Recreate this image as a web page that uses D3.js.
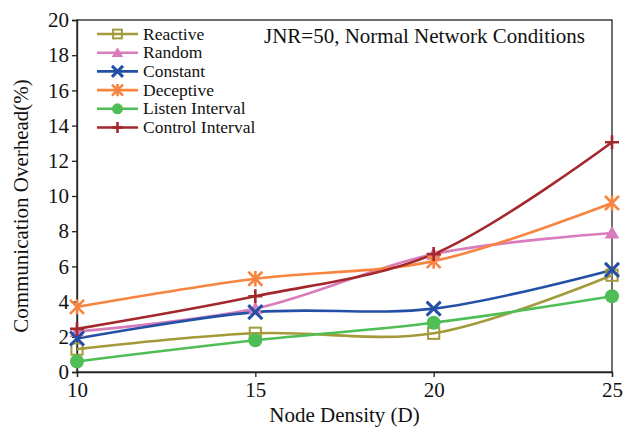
<!DOCTYPE html>
<html>
<head>
<meta charset="utf-8">
<script src="https://cdn.jsdelivr.net/npm/d3@7"></script>
<style>
  html, body { margin: 0; padding: 0; background: #fff; }
  svg { display: block; font-family: "Liberation Serif", "Times New Roman", serif; }
</style>
</head>
<body>
<svg id="chart" width="631" height="434"></svg>
<script>
// Node density values on the x axis
const densities = [10, 15, 20, 25];
const xTicks = [10, 15, 20, 25];
const yTicks = [0, 2, 4, 6, 8, 10, 12, 14, 16, 18, 20];

// Communication overhead (%) per scheme
const reactive = [1.3, 2.2, 2.2, 5.5];
const random = [2.3, 3.6, 6.7, 7.9];
const constant = [1.9, 3.4, 3.6, 5.8];
const deceptive = [3.7, 5.3, 6.3, 9.6];
const listenInterval = [0.6, 1.8, 2.8, 4.3];
const controlInterval = [2.45, 4.3, 6.7, 13.05];

const seriesNames = ["Reactive", "Random", "Constant", "Deceptive", "Listen Interval", "Control Interval"];
const seriesValues = [reactive, random, constant, deceptive, listenInterval, controlInterval];
const seriesColors = ["#a39b3b", "#d97cbc", "#2350a6", "#f7843f", "#4fbe56", "#a3282c"];
const seriesMarkers = ["square", "triangle", "x", "asterisk", "circle", "plus"];

const svg = d3.select("#chart");
const margin = { left: 77, right: 19, top: 20, bottom: 62 };
const W = 631, H = 434;

const x = d3.scaleLinear().domain([10, 25]).range([margin.left, W - margin.right]);
const y = d3.scaleLinear().domain([0, 20]).range([H - margin.bottom, margin.top]);

// Frame around the plot area
svg.append("rect")
  .attr("x", x(10)).attr("y", y(20))
  .attr("width", x(25) - x(10)).attr("height", y(0) - y(20))
  .attr("fill", "none").attr("stroke", "#222").attr("stroke-width", 1.3);

// Axes
const xAxis = svg.append("g")
  .attr("transform", `translate(0,${y(0)})`)
  .call(d3.axisBottom(x).tickValues(xTicks).tickSize(5).tickPadding(5).tickFormat(d3.format("d")));
const yAxis = svg.append("g")
  .attr("transform", `translate(${x(10)},0)`)
  .call(d3.axisLeft(y).tickValues(yTicks).tickSize(5).tickPadding(3).tickFormat(d3.format("d")));

[xAxis, yAxis].forEach(g => {
  g.select(".domain").attr("stroke", "#222").attr("stroke-width", 1.3);
  g.selectAll(".tick line").attr("stroke", "#222").attr("stroke-width", 1.3);
  g.selectAll(".tick text")
    .attr("fill", "#111")
    .style("font-family", '"Liberation Serif", serif')
    .style("font-size", "21px");
});

// Axis titles
svg.append("text")
  .attr("x", (x(10) + x(25)) / 2).attr("y", 422)
  .attr("text-anchor", "middle")
  .attr("fill", "#111")
  .style("font-size", "21px")
  .text("Node Density (D)");

svg.append("text")
  .attr("transform", `translate(28,${(y(0) + y(20)) / 2 + 10}) rotate(-90)`)
  .attr("text-anchor", "middle")
  .attr("fill", "#111")
  .style("font-size", "21px")
  .text("Communication Overhead(%)");

// Condition label inside the plot
svg.append("text")
  .attr("x", 585).attr("y", 43)
  .attr("text-anchor", "end")
  .attr("fill", "#111")
  .style("font-size", "21px")
  .text("JNR=50, Normal Network Conditions");

// Marker drawing
function drawMarker(g, kind, color, cx, cy, s) {
  if (kind === "square") {
    g.append("rect").attr("x", cx - s * 0.8).attr("y", cy - s * 0.8)
      .attr("width", s * 1.6).attr("height", s * 1.6)
      .attr("fill", "none").attr("stroke", color).attr("stroke-width", 2);
  } else if (kind === "triangle") {
    g.append("path")
      .attr("d", `M${cx},${cy - s}L${cx + s * 1.05},${cy + s * 0.8}L${cx - s * 1.05},${cy + s * 0.8}Z`)
      .attr("fill", color);
  } else if (kind === "circle") {
    g.append("circle").attr("cx", cx).attr("cy", cy).attr("r", s).attr("fill", color);
  } else if (kind === "x") {
    g.append("path")
      .attr("d", `M${cx - s},${cy - s}L${cx + s},${cy + s}M${cx - s},${cy + s}L${cx + s},${cy - s}`)
      .attr("stroke", color).attr("stroke-width", 3).attr("fill", "none");
  } else if (kind === "asterisk") {
    g.append("path")
      .attr("d", `M${cx - s},${cy - s}L${cx + s},${cy + s}M${cx - s},${cy + s}L${cx + s},${cy - s}M${cx},${cy - s * 1.1}L${cx},${cy + s * 1.1}`)
      .attr("stroke", color).attr("stroke-width", 2.6).attr("fill", "none");
  } else if (kind === "plus") {
    g.append("path")
      .attr("d", `M${cx - s},${cy}L${cx + s},${cy}M${cx},${cy - s}L${cx},${cy + s}`)
      .attr("stroke", color).attr("stroke-width", 2.6).attr("fill", "none");
  }
}

const line = d3.line()
  .x((d, i) => x(densities[i]))
  .y(d => y(d))
  .curve(d3.curveCatmullRom.alpha(0.5));

const plot = svg.append("g");
seriesValues.forEach((vals, k) => {
  plot.append("path")
    .datum(vals)
    .attr("d", line)
    .attr("fill", "none")
    .attr("stroke", seriesColors[k])
    .attr("stroke-width", 2.6);
});
seriesValues.forEach((vals, k) => {
  const g = plot.append("g");
  vals.forEach((v, i) => drawMarker(g, seriesMarkers[k], seriesColors[k], x(densities[i]), y(v), 7));
});

// Legend
const legend = svg.append("g");
seriesNames.forEach((name, k) => {
  const ly = 34 + k * 18.7;
  legend.append("line")
    .attr("x1", 97).attr("x2", 138).attr("y1", ly).attr("y2", ly)
    .attr("stroke", seriesColors[k]).attr("stroke-width", 2.6);
  drawMarker(legend, seriesMarkers[k], seriesColors[k], 117.5, ly, 5.5);
  legend.append("text")
    .attr("x", 143).attr("y", ly + 5.5)
    .attr("fill", "#111")
    .style("font-size", "17.5px")
    .text(name);
});
</script>
</body>
</html>
